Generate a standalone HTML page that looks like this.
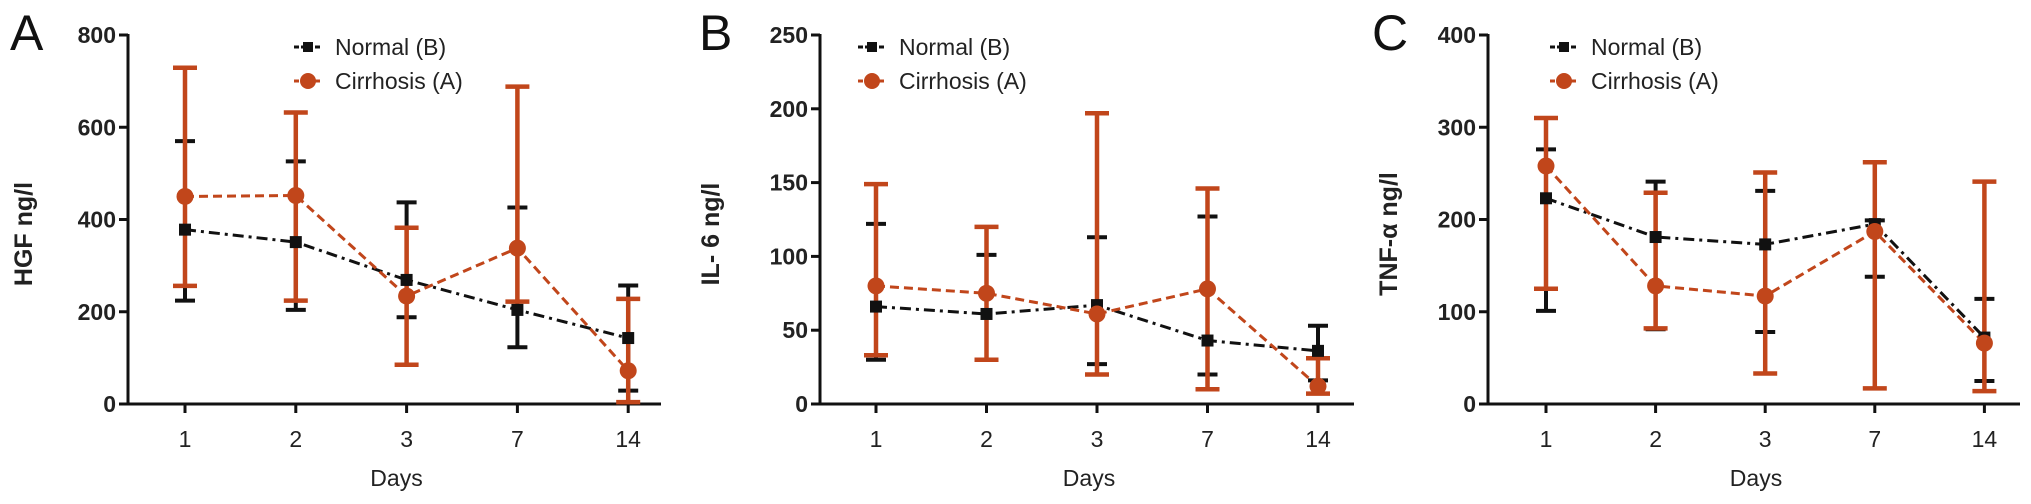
<!DOCTYPE html>
<html><head><meta charset="utf-8"><style>
html,body{margin:0;padding:0;background:#fff;}
svg{display:block;font-family:"Liberation Sans",Arial,sans-serif;}
</style></head><body>
<svg id="chart" width="2031" height="504" viewBox="0 0 2031 504" xmlns="http://www.w3.org/2000/svg"></svg>
<script>
const days = ["1","2","3","7","14"];
const hgfNormal = [378,351,269,204,143];
const hgfNormalHi = [570,526,437,426,257];
const hgfNormalLo = [224,204,188,123,29];
const hgfCirr = [450,452,234,338,72];
const hgfCirrHi = [729,632,382,688,228];
const hgfCirrLo = [256,224,85,222,4];
const hgfTicks = [0,200,400,600,800];

const il6Normal = [66,61,67,43,36];
const il6NormalHi = [122,101,113,127,53];
const il6NormalLo = [30,30,27,20,16];
const il6Cirr = [80,75,61,78,12];
const il6CirrHi = [149,120,197,146,31];
const il6CirrLo = [33,30,20,10,7];
const il6Ticks = [0,50,100,150,200,250];

const tnfNormal = [223,181,173,195,72];
const tnfNormalHi = [276,241,231,199,114];
const tnfNormalLo = [101,81,78,138,25];
const tnfCirr = [258,128,117,187,66];
const tnfCirrHi = [310,229,251,262,241];
const tnfCirrLo = [125,82,33,17,14];
const tnfTicks = [0,100,200,300,400];

const NS="http://www.w3.org/2000/svg";
const svg=document.getElementById('chart');
const ORANGE="#c1461b";
function mk(tag,attrs,parent,text){const e=document.createElementNS(NS,tag);for(const k in attrs)e.setAttribute(k,attrs[k]);if(text!==undefined)e.textContent=text;(parent||svg).appendChild(e);return e;}

function panel(cfg){
  const g=mk('g',{});
  
  
  const y0=404,yTop=35,max=cfg.ticks[cfg.ticks.length-1];
  const Y=v=>y0-(v/max)*(y0-yTop);
  const X=i=>cfg.x1+i*cfg.dx;
  const ya=mk('line',{x1:cfg.ax,y1:yTop-1,x2:cfg.ax,y2:y0+1.5,stroke:'#111','stroke-width':3},g);
  
  const xa=mk('line',{x1:cfg.ax-9,y1:y0,x2:cfg.axEnd,y2:y0,stroke:'#111','stroke-width':3},g);
  
  cfg.ticks.forEach(t=>{
    mk('line',{x1:cfg.ax-9,y1:Y(t),x2:cfg.ax,y2:Y(t),stroke:'#111','stroke-width':3},g);
    const tl=mk('text',{x:cfg.ax-12,y:Y(t)+8,'text-anchor':'end','font-size':23,'font-weight':'bold',fill:'#222'},g,String(t));
    
  });
  days.forEach((d,i)=>{
    mk('line',{x1:X(i),y1:y0,x2:X(i),y2:y0+9,stroke:'#111','stroke-width':3},g);
    const tl=mk('text',{x:X(i),y:447,'text-anchor':'middle','font-size':23,fill:'#222'},g,d);
    
  });
  const xt=mk('text',{x:(cfg.ax+cfg.axEnd)/2+2,y:486,'text-anchor':'middle','font-size':23,fill:'#222'},g,'Days');
  
  const yt=mk('text',{x:0,y:0,'text-anchor':'middle','font-size':25,'font-weight':'bold',fill:'#222',transform:`translate(${cfg.ylx},234) rotate(-90)`},g,cfg.ylabel);
  
  const pl=mk('text',{x:cfg.lx,y:50,'font-size':50,fill:'#111'},g,cfg.letter);
  

  const ptsN=cfg.n.map((v,i)=>X(i)+','+Y(v)).join(' ');
  const ln=mk('polyline',{points:ptsN,fill:'none',stroke:'#111','stroke-width':3,'stroke-dasharray':'11 5 3 5'},g);
  
  cfg.n.forEach((v,i)=>{
    const eb=mk('g',{},g);
    
    mk('line',{x1:X(i),y1:Y(cfg.nHi[i]),x2:X(i),y2:Y(cfg.nLo[i]),stroke:'#111','stroke-width':4},eb);
    mk('line',{x1:X(i)-10,y1:Y(cfg.nHi[i]),x2:X(i)+10,y2:Y(cfg.nHi[i]),stroke:'#111','stroke-width':4},eb);
    mk('line',{x1:X(i)-10,y1:Y(cfg.nLo[i]),x2:X(i)+10,y2:Y(cfg.nLo[i]),stroke:'#111','stroke-width':4},eb);
  });
  const ptsC=cfg.c.map((v,i)=>X(i)+','+Y(v)).join(' ');
  const lc=mk('polyline',{points:ptsC,fill:'none',stroke:ORANGE,'stroke-width':3,'stroke-dasharray':'9 5'},g);
  
  cfg.c.forEach((v,i)=>{
    const eb=mk('g',{},g);
    
    mk('line',{x1:X(i),y1:Y(cfg.cHi[i]),x2:X(i),y2:Y(cfg.cLo[i]),stroke:ORANGE,'stroke-width':4.5},eb);
    mk('line',{x1:X(i)-12,y1:Y(cfg.cHi[i]),x2:X(i)+12,y2:Y(cfg.cHi[i]),stroke:ORANGE,'stroke-width':4.5},eb);
    mk('line',{x1:X(i)-12,y1:Y(cfg.cLo[i]),x2:X(i)+12,y2:Y(cfg.cLo[i]),stroke:ORANGE,'stroke-width':4.5},eb);
  });
  cfg.n.forEach((v,i)=>{
    const m=mk('rect',{x:X(i)-6,y:Y(v)-6,width:12,height:12,fill:'#111'},g);
    
  });
  cfg.c.forEach((v,i)=>{
    const m=mk('circle',{cx:X(i),cy:Y(v),r:8.5,fill:ORANGE},g);
    
  });
  const lg=mk('g',{},g);
  
  const le1=mk('g',{},lg);
  
  mk('line',{x1:cfg.legX-14,y1:47,x2:cfg.legX+14,y2:47,stroke:'#111','stroke-width':3,'stroke-dasharray':'5 2'},le1);
  mk('rect',{x:cfg.legX-5,y:42,width:10,height:10,fill:'#111'},le1);
  mk('text',{x:cfg.legX+27,y:55,'font-size':23,fill:'#222'},le1,'Normal (B)');
  const le2=mk('g',{},lg);
  
  mk('line',{x1:cfg.legX-14,y1:81,x2:cfg.legX+14,y2:81,stroke:ORANGE,'stroke-width':3,'stroke-dasharray':'5 2'},le2);
  mk('circle',{cx:cfg.legX,cy:81,r:8,fill:ORANGE},le2);
  mk('text',{x:cfg.legX+27,y:89,'font-size':23,fill:'#222'},le2,'Cirrhosis (A)');
}

panel({letter:'A',ylabel:'HGF ng/l',ax:128,axEnd:661,x1:185,dx:110.8,ylx:32,lx:10,legX:308,ticks:hgfTicks,
  n:hgfNormal,nHi:hgfNormalHi,nLo:hgfNormalLo,c:hgfCirr,cHi:hgfCirrHi,cLo:hgfCirrLo});
panel({letter:'B',ylabel:'IL- 6 ng/l',ax:820,axEnd:1354,x1:876,dx:110.5,ylx:719,lx:699,legX:872,ticks:il6Ticks,
  n:il6Normal,nHi:il6NormalHi,nLo:il6NormalLo,c:il6Cirr,cHi:il6CirrHi,cLo:il6CirrLo});
panel({letter:'C',ylabel:'TNF-α ng/l',ax:1488,axEnd:2020,x1:1546,dx:109.6,ylx:1397,lx:1372,legX:1564,ticks:tnfTicks,
  n:tnfNormal,nHi:tnfNormalHi,nLo:tnfNormalLo,c:tnfCirr,cHi:tnfCirrHi,cLo:tnfCirrLo});
</script>
</body></html>
